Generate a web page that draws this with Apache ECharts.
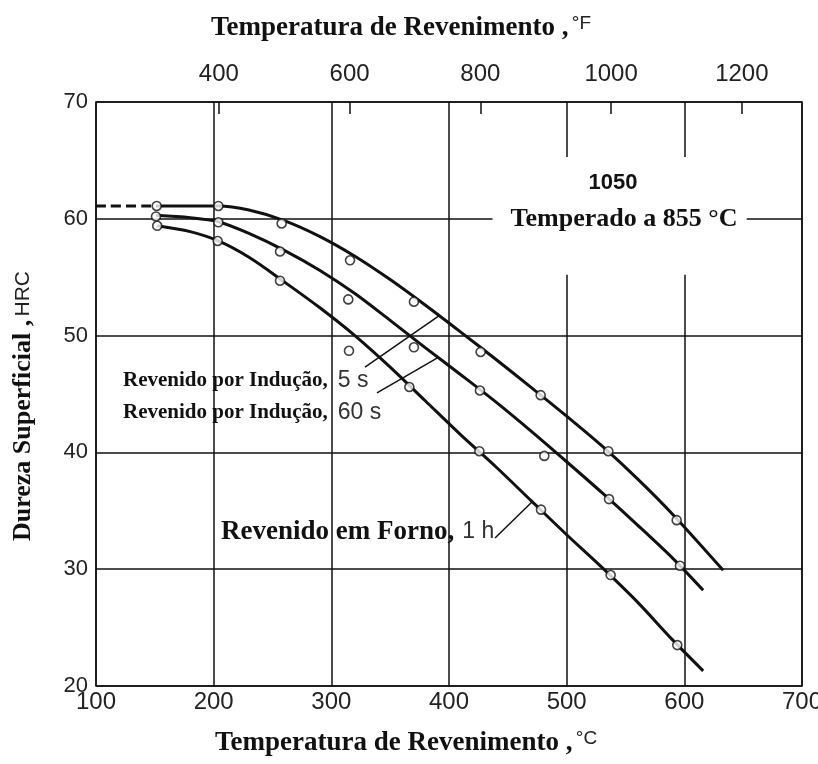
<!DOCTYPE html>
<html><head><meta charset="utf-8">
<script src="https://cdn.jsdelivr.net/npm/echarts@6/dist/echarts.min.js"></script>
<style>html,body{margin:0;padding:0;background:#fff}#c{width:818px;height:764px}</style>
</head><body><div id="c"></div>
<script>
// ---- data ----
const celsiusTicks = [100, 200, 300, 400, 500, 600, 700];
const hrcTicks = [20, 30, 40, 50, 60, 70];
const fahrenheitTicks = [400, 600, 800, 1000, 1200];

// curves (°C, HRC)
const curve5s = [[151,61.1],[204,61.1],[230,60.75],[260,59.85],[290,58.5],[320,56.8],[350,54.8],[380,52.6],[410,50.3],[440,47.95],[470,45.55],[500,43.1],[530,40.55],[560,37.75],[590,34.7],[633,29.9]];
const curve5sDashed = [[100,61.1],[151,61.1]];
const curve60s = [[151,60.3],[180,60.1],[204,59.75],[230,58.75],[260,57.3],[290,55.6],[320,53.6],[350,51.3],[380,48.95],[410,46.65],[440,44.3],[470,41.8],[500,39.2],[530,36.55],[560,33.8],[590,30.95],[616,28.2]];
const curveFurnace = [[152,59.4],[180,58.9],[204,58.1],[230,56.7],[260,54.6],[290,52.4],[320,50.0],[350,47.3],[380,44.4],[410,41.5],[440,38.75],[470,35.85],[500,32.95],[530,30.15],[560,27.2],[590,23.95],[616,21.3]];

// measured points
const points5s = [[151.6,61.1],[204,61.1],[257.8,59.6],[315.9,56.45],[370.2,52.9],[426.9,48.6],[477.9,44.9],[535.4,40.1],[593.5,34.2]];
const points60s = [[151,60.2],[204,59.7],[256.4,57.2],[314.4,53.1],[370.2,49.0],[426.3,45.3],[481,39.7],[536,36.0],[596.3,30.3]];
const pointsFurnace = [[152,59.4],[203.4,58.1],[256.4,54.7],[315,48.7],[366.3,45.6],[425.8,40.1],[478.2,35.1],[537.4,29.5],[594,23.5]];

// leader lines
const leader5s = [[328.6,47.3],[392.3,51.75]];
const leader60s = [[338.8,45.1],[389.8,48.07]];
const leaderFurnace = [[439.1,32.67],[470.5,35.75]];

// ---- chart ----
const INK = '#111';
const serif = "'Liberation Serif','Times New Roman',serif";
const sans = "'Liberation Sans',Arial,sans-serif";
const narrow = "'Liberation Sans Narrow','Liberation Sans',Arial,sans-serif";

const chart = echarts.init(document.getElementById('c'), null, {renderer: 'canvas'});

function curveSeries(data, dashed) {
  return {
    type: 'line', data: data, smooth: 0.3, showSymbol: false, silent: true,
    lineStyle: {color: INK, width: 3, type: dashed ? [10, 5] : 'solid'}, z: 3
  };
}
function pointSeries(data) {
  return {
    type: 'scatter', data: data, symbol: 'circle', symbolSize: 9, silent: true,
    itemStyle: {color: '#fff', borderColor: INK, borderWidth: 1.6}, z: 5
  };
}
function leaderSeries(data) {
  return {
    type: 'line', data: data, showSymbol: false, silent: true,
    lineStyle: {color: INK, width: 1.5}, z: 3
  };
}

const option = {
  animation: false,
  backgroundColor: '#fff',
  grid: {left: 96, right: 16, top: 102, bottom: 78, outerBoundsMode: 'none', containLabel: false,
         show: true, borderColor: INK, borderWidth: 1.5, backgroundColor: 'transparent'},
  xAxis: [
    {
      type: 'value', min: 100, max: 700, interval: 100, position: 'bottom',
      axisLine: {show: false}, axisTick: {show: false},
      axisLabel: {fontFamily: narrow, fontSize: 24, color: '#222', margin: 4, showMinLabel: true, showMaxLabel: true,
                  formatter: v => String(v)},
      splitLine: {show: true, lineStyle: {color: INK, width: 1.5}}
    },
    {
      type: 'value', min: 212, max: 1292, position: 'top',
      axisLine: {show: false},
      axisTick: {show: true, inside: true, length: 12, customValues: fahrenheitTicks, lineStyle: {color: INK, width: 1.5}},
      axisLabel: {customValues: fahrenheitTicks, fontFamily: narrow, fontSize: 24, color: '#222', margin: 16,
                  formatter: v => String(v)},
      splitLine: {show: false}
    }
  ],
  yAxis: {
    type: 'value', min: 20, max: 70, interval: 10,
    axisLine: {show: false}, axisTick: {show: false},
    axisLabel: {fontFamily: narrow, fontSize: 22, color: '#222', margin: 8, formatter: v => String(v)},
    splitLine: {show: true, lineStyle: {color: INK, width: 1.5}}
  },
  series: [
    Object.assign(curveSeries(curve5sDashed, true), {
      markArea: {silent: true, itemStyle: {color: '#fff', opacity: 1}, z: 1,
        data: [[{coord: [437, 65.3]}, {coord: [653, 55.2]}]]}
    }),
    curveSeries(curve5s),
    curveSeries(curve60s),
    curveSeries(curveFurnace),
    leaderSeries(leader5s),
    leaderSeries(leader60s),
    leaderSeries(leaderFurnace),
    pointSeries(points5s),
    pointSeries(points60s),
    pointSeries(pointsFurnace)
  ],
  graphic: [
    {type: 'text', z: 100, x: 211, y: 14,
     style: {text: '{s|Temperatura de Revenimento ,} {u|°F}', rich: {
       s: {fontFamily: serif, fontWeight: 'bold', fontSize: 27, fill: INK},
       u: {fontFamily: sans, fontSize: 19, fill: '#222', padding: [0,0,10,0]}}}},
    {type: 'text', z: 100, x: 215, y: 729,
     style: {text: '{s|Temperatura de Revenimento ,} {u|°C}', rich: {
       s: {fontFamily: serif, fontWeight: 'bold', fontSize: 27, fill: INK},
       u: {fontFamily: sans, fontSize: 19, fill: '#222', padding: [0,0,10,0]}}}},
    {type: 'text', z: 100, x: 23, y: 406, rotation: Math.PI / 2,
     style: {text: '{s|Dureza Superficial ,} {u|HRC}', align: 'center', verticalAlign: 'middle', rich: {
       s: {fontFamily: serif, fontWeight: 'bold', fontSize: 26, fill: INK},
       u: {fontFamily: sans, fontSize: 21, fill: '#222'}}}},
    {type: 'text', z: 100, x: 613, y: 183,
     style: {text: '1050', align: 'center', verticalAlign: 'middle', font: 'bold 22px ' + sans, fill: INK}},
    {type: 'text', z: 100, x: 624, y: 219,
     style: {text: 'Temperado a 855 °C', align: 'center', verticalAlign: 'middle', font: 'bold 26px ' + serif, fill: INK}},
    {type: 'text', z: 100, x: 123, y: 381,
     style: {text: '{s|Revenido por Indução,}{g| }{u|5 s}', verticalAlign: 'middle', rich: {
       s: {fontFamily: serif, fontWeight: 'bold', fontSize: 21, fill: INK},
       g: {fontFamily: sans, fontSize: 22, width: 10},
       u: {fontFamily: sans, fontSize: 23, fill: '#333'}}}},
    {type: 'text', z: 100, x: 123, y: 413,
     style: {text: '{s|Revenido por Indução,}{g| }{u|60 s}', verticalAlign: 'middle', rich: {
       s: {fontFamily: serif, fontWeight: 'bold', fontSize: 21, fill: INK},
       g: {fontFamily: sans, fontSize: 22, width: 10},
       u: {fontFamily: sans, fontSize: 23, fill: '#333'}}}},
    {type: 'text', z: 100, x: 221, y: 532,
     style: {text: '{s|Revenido em Forno,}{g| }{u|1 h}', verticalAlign: 'middle', rich: {
       s: {fontFamily: serif, fontWeight: 'bold', fontSize: 27, fill: INK},
       g: {fontFamily: sans, fontSize: 22, width: 8},
       u: {fontFamily: sans, fontSize: 23, fill: '#333'}}}}
  ]
};
chart.setOption(option);
</script>
</body></html>
